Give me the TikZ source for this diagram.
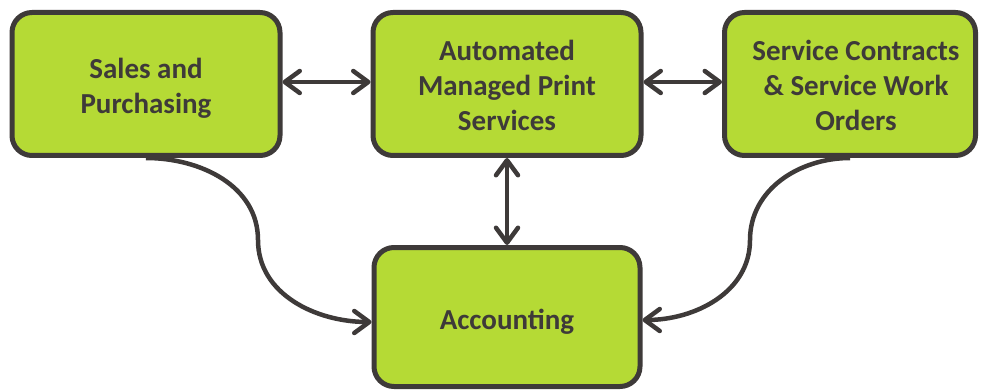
\documentclass[tikz,border=0pt]{standalone}
\usepackage{fontspec}
\setmainfont{Carlito}
\usetikzlibrary{arrows.meta}
\definecolor{boxfill}{HTML}{B5DA35}
\definecolor{boxline}{HTML}{3E3A39}
\newcommand{\boxtext}[2][0pt]{\hspace*{#1}\raisebox{-5pt}[\height][\depth]{\begin{tabular}{@{}c@{}}#2\end{tabular}}}
\tikzset{
  procbox/.style={draw=boxline, fill=boxfill, line width=5pt, rounded corners=20pt,
    align=center, text=boxline, font=\fontsize{29}{35}\selectfont\bfseries, inner sep=0pt},
  link/.style={draw=boxline, line width=4.5pt,
    arrows={-Straight Barb[length=15pt,width=22pt,round]}},
  dlink/.style={draw=boxline, line width=4.5pt,
    arrows={Straight Barb[length=15pt,width=22pt,round]-Straight Barb[length=15pt,width=22pt,round]}}
}
\begin{document}
\begin{tikzpicture}[x=1pt,y=-1pt]
\useasboundingbox (0,0) rectangle (981,390);
\node[procbox, minimum width=268pt, minimum height=143pt] (sales) at (146,84) {\boxtext{Sales and\\Purchasing}};
\node[procbox, minimum width=268pt, minimum height=143pt] (amps) at (507,84) {\boxtext{Automated\\Managed Print\\Services}};
\node[procbox, minimum width=251pt, minimum height=143pt] (svc) at (850,84) {\boxtext[12pt]{Service Contracts\\\& Service Work\\Orders}};
\node[procbox, minimum width=266pt, minimum height=139pt] (acc) at (507,317) {\boxtext{Accounting}};
\coordinate (lmid) at (258,240);
\coordinate (rmid) at (750,240);
\draw[dlink] (sales.east |- 0,82) -- (amps.west |- 0,82);
\draw[dlink] (amps.east |- 0,82) -- (svc.west |- 0,82);
\draw[dlink] (amps.south) -- (acc.north);
\draw[link] (sales.south) to[out=0,in=90] (lmid) to[out=-90,in=180] ([yshift=-5pt]acc.west);
\draw[link] (svc.south) to[out=180,in=90] (rmid) to[out=-90,in=0] ([yshift=-3pt]acc.east);
\end{tikzpicture}
\end{document}
